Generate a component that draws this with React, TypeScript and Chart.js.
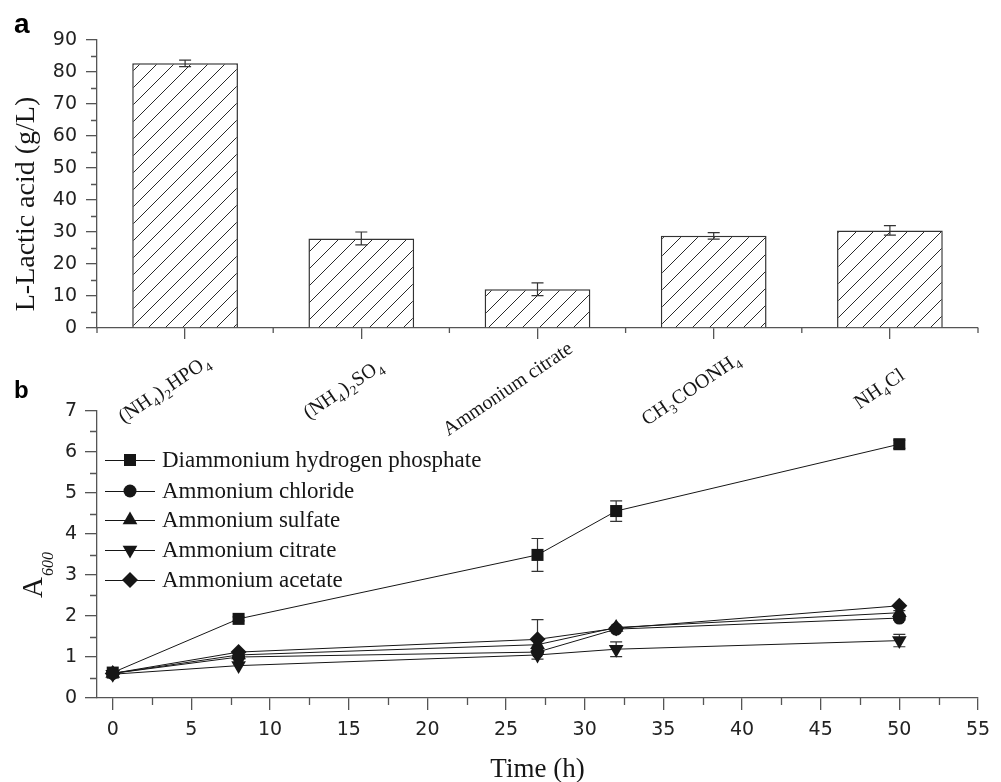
import React, { useEffect, useRef } from 'react';
import { Chart, registerables } from 'chart.js';

Chart.register(...registerables);

// ---------- Panel a data ----------
const categories = ['(NH_4)_2HPO_4', '(NH_4)_2SO_4', 'Ammonium citrate', 'CH_3COONH_4', 'NH_4Cl'];
const lacticAcid = [82.7, 28.0, 12.1, 28.8, 30.5];
const lacticErr = [1.0, 2.0, 2.0, 1.0, 1.5];
const lacticTicks = [0, 10, 20, 30, 40, 50, 60, 70, 80, 90];
const lacticMinor = [5, 15, 25, 35, 45, 55, 65, 75, 85];

// ---------- Panel b data ----------
const timeH = [0, 8, 27, 32, 50];
const seriesNames = [
  'Diammonium hydrogen phosphate',
  'Ammonium chloride',
  'Ammonium sulfate',
  'Ammonium citrate',
  'Ammonium acetate',
];
const dhpA600 = [0.62, 1.93, 3.49, 4.56, 6.19];
const dhpErr = [0.04, 0.05, 0.4, 0.25, 0.1];
const chlorideA600 = [0.6, 1.0, 1.12, 1.68, 1.95];
const chlorideErr = [0, 0, 0, 0, 0.05];
const sulfateA600 = [0.6, 1.05, 1.3, 1.72, 2.08];
const sulfateErr = [0, 0, 0, 0, 0.05];
const citrateA600 = [0.58, 0.79, 1.05, 1.19, 1.4];
const citrateErr = [0, 0, 0, 0.18, 0.15];
const acetateA600 = [0.6, 1.12, 1.43, 1.7, 2.25];
const acetateErr = [0, 0, 0.48, 0, 0];
const timeTicks = [0, 5, 10, 15, 20, 25, 30, 35, 40, 45, 50, 55];
const timeMinor = [2.5, 7.5, 12.5, 17.5, 22.5, 27.5, 32.5, 37.5, 42.5, 47.5, 52.5];
const a600Ticks = [0, 1, 2, 3, 4, 5, 6, 7];
const a600Minor = [0.5, 1.5, 2.5, 3.5, 4.5, 5.5, 6.5];

const AXIS = '#555';
const INK = '#161616';
const TICKFONT = { family: '"DejaVu Sans", sans-serif', size: 19 };
const SERIF = '"Liberation Serif", "Times New Roman", serif';

function parseRich(s: string) {
  const parts: { t: string; sub: boolean }[] = [];
  let buf = '';
  for (let i = 0; i < s.length; i++) {
    if (s[i] === '_' && i + 1 < s.length) {
      if (buf) { parts.push({ t: buf, sub: false }); buf = ''; }
      parts.push({ t: s[i + 1], sub: true });
      i++;
    } else buf += s[i];
  }
  if (buf) parts.push({ t: buf, sub: false });
  return parts;
}

function drawMarker(ctx: CanvasRenderingContext2D, style: string, x: number, y: number, r: number) {
  ctx.beginPath();
  if (style === 'rect') {
    const s = r * Math.SQRT1_2;
    ctx.rect(x - s, y - s, 2 * s, 2 * s);
  } else if (style === 'circle') {
    ctx.arc(x, y, r, 0, Math.PI * 2);
  } else if (style === 'triangle' || style === 'triangleDown') {
    const d = style === 'triangle' ? 1 : -1;
    for (let k = 0; k < 3; k++) {
      const a = -Math.PI / 2 + (k * 2 * Math.PI) / 3;
      const px = x + r * Math.cos(a);
      const py = y + d * r * Math.sin(a);
      if (k === 0) ctx.moveTo(px, py); else ctx.lineTo(px, py);
    }
    ctx.closePath();
  } else if (style === 'diamond') {
    ctx.moveTo(x, y - r); ctx.lineTo(x + r, y); ctx.lineTo(x, y + r); ctx.lineTo(x - r, y); ctx.closePath();
  }
  ctx.fill();
}

function makeHatch(): CanvasPattern | string {
  const c = document.createElement('canvas');
  const n = 17;
  c.width = n; c.height = n;
  const g = c.getContext('2d');
  if (!g) return '#fff';
  g.fillStyle = '#fff';
  g.fillRect(0, 0, n, n);
  g.strokeStyle = '#2a2a2a';
  g.lineWidth = 1;
  g.beginPath();
  g.moveTo(-2, n + 2); g.lineTo(n + 2, -2);
  g.moveTo(-2, 2); g.lineTo(2, -2);
  g.moveTo(n - 2, n + 2); g.lineTo(n + 2, n - 2);
  g.stroke();
  const p = g.createPattern(c, 'repeat');
  return p || '#fff';
}

function errBar(ctx: CanvasRenderingContext2D, x: number, yTop: number, yBot: number, cap: number) {
  ctx.beginPath();
  ctx.moveTo(x, yTop); ctx.lineTo(x, yBot);
  ctx.moveTo(x - cap / 2, yTop); ctx.lineTo(x + cap / 2, yTop);
  ctx.moveTo(x - cap / 2, yBot); ctx.lineTo(x + cap / 2, yBot);
  ctx.stroke();
}

const panelAPlugin = {
  id: 'panelA',
  afterDatasetsDraw(chart: any) {
    const ctx: CanvasRenderingContext2D = chart.ctx;
    const y = chart.scales.y;
    const meta = chart.getDatasetMeta(0);
    ctx.save();
    ctx.strokeStyle = '#333';
    ctx.lineWidth = 1.2;
    meta.data.forEach((bar: any, i: number) => {
      const v = lacticAcid[i];
      const e = lacticErr[i];
      errBar(ctx, bar.x, y.getPixelForValue(v + e), y.getPixelForValue(v - e), 12);
    });
    ctx.restore();
  },
  afterDraw(chart: any) {
    const ctx: CanvasRenderingContext2D = chart.ctx;
    const { left, right, bottom } = chart.chartArea;
    const x = chart.scales.x;
    const y = chart.scales.y;
    ctx.save();
    ctx.strokeStyle = AXIS;
    ctx.lineWidth = 1.3;
    ctx.beginPath();
    lacticMinor.forEach((v) => {
      const py = Math.round(y.getPixelForValue(v)) + 0.5;
      ctx.moveTo(left - 6, py); ctx.lineTo(left, py);
    });
    const w = (right - left) / categories.length;
    for (let k = 0; k <= categories.length; k++) {
      const px = left + k * w;
      ctx.moveTo(px, bottom); ctx.lineTo(px, bottom + 5);
    }
    ctx.stroke();

    // category labels (rotated, with subscripts)
    const angle = (34 * Math.PI) / 180;
    const MAIN = `20px ${SERIF}`;
    const SUB = `13px ${SERIF}`;
    ctx.fillStyle = INK;
    ctx.textAlign = 'left';
    ctx.textBaseline = 'alphabetic';
    categories.forEach((lab, i) => {
      const parts = parseRich(lab);
      let wTot = 0;
      parts.forEach((p) => { ctx.font = p.sub ? SUB : MAIN; wTot += ctx.measureText(p.t).width + (p.sub ? 1.5 : 0); });
      const cx = x.getPixelForValue(i) - 0.2 * wTot;
      const cy = 388;
      ctx.save();
      ctx.translate(cx, cy);
      ctx.rotate(-angle);
      let px = -wTot / 2;
      parts.forEach((p) => {
        ctx.font = p.sub ? SUB : MAIN;
        ctx.fillText(p.t, px + (p.sub ? 0.5 : 0), 7 + (p.sub ? 5 : 0));
        px += ctx.measureText(p.t).width + (p.sub ? 1.5 : 0);
      });
      ctx.restore();
    });

    // y title
    ctx.save();
    ctx.translate(27, 204);
    ctx.rotate(-Math.PI / 2);
    ctx.font = `28px ${SERIF}`;
    ctx.textAlign = 'center';
    ctx.textBaseline = 'middle';
    ctx.fillText('L-Lactic acid (g/L)', 0, 0);
    ctx.restore();

    // panel letter
    ctx.font = 'bold 28px "Liberation Sans", Arial, sans-serif';
    ctx.textAlign = 'left';
    ctx.textBaseline = 'alphabetic';
    ctx.fillStyle = '#000';
    ctx.fillText('a', 14, 33);
    ctx.restore();
  },
};

const lineSeries = [
  { name: seriesNames[0], data: dhpA600, err: dhpErr, style: 'rect', r: 8.5 },
  { name: seriesNames[1], data: chlorideA600, err: chlorideErr, style: 'circle', r: 6.5 },
  { name: seriesNames[2], data: sulfateA600, err: sulfateErr, style: 'triangle', r: 8.5 },
  { name: seriesNames[3], data: citrateA600, err: citrateErr, style: 'triangleDown', r: 8.5 },
  { name: seriesNames[4], data: acetateA600, err: acetateErr, style: 'diamond', r: 8 },
];

const panelBPlugin = {
  id: 'panelB',
  beforeDatasetsDraw(chart: any) {
    const ctx: CanvasRenderingContext2D = chart.ctx;
    const x = chart.scales.x;
    const y = chart.scales.y;
    ctx.save();
    ctx.strokeStyle = '#333';
    ctx.lineWidth = 1.2;
    lineSeries.forEach((s) => {
      s.data.forEach((v, i) => {
        const e = s.err[i];
        if (!e) return;
        errBar(ctx, x.getPixelForValue(timeH[i]), y.getPixelForValue(v + e), y.getPixelForValue(v - e), 12);
      });
    });
    ctx.restore();
  },
  afterDraw(chart: any) {
    const ctx: CanvasRenderingContext2D = chart.ctx;
    const { left, right, bottom } = chart.chartArea;
    const x = chart.scales.x;
    const y = chart.scales.y;
    ctx.save();
    ctx.strokeStyle = AXIS;
    ctx.lineWidth = 1.3;
    ctx.beginPath();
    a600Minor.forEach((v) => {
      const py = Math.round(y.getPixelForValue(v)) + 0.5;
      ctx.moveTo(left - 7, py); ctx.lineTo(left, py);
    });
    timeMinor.forEach((v) => {
      const px = Math.round(x.getPixelForValue(v)) + 0.5;
      ctx.moveTo(px, bottom); ctx.lineTo(px, bottom + 7);
    });
    ctx.stroke();

    // legend
    const rowY = [80, 111, 140, 170, 200];
    ctx.font = `23px ${SERIF}`;
    ctx.textAlign = 'left';
    ctx.textBaseline = 'middle';
    lineSeries.forEach((s, i) => {
      const yy = rowY[i];
      ctx.strokeStyle = INK;
      ctx.lineWidth = 1;
      ctx.beginPath();
      ctx.moveTo(105, yy + 0.5); ctx.lineTo(155, yy + 0.5);
      ctx.stroke();
      ctx.fillStyle = INK;
      drawMarker(ctx, s.style, 130, yy, s.r);
      ctx.fillStyle = INK;
      ctx.fillText(s.name, 162, yy + 1);
    });

    // y title A600
    ctx.save();
    ctx.translate(42, 575 - 380);
    ctx.rotate(-Math.PI / 2);
    ctx.textBaseline = 'alphabetic';
    ctx.font = `29px ${SERIF}`;
    const wA = ctx.measureText('A').width;
    ctx.font = `italic 16px ${SERIF}`;
    const wS = ctx.measureText('600').width;
    const start = -(wA + 1 + wS) / 2;
    ctx.font = `29px ${SERIF}`;
    ctx.fillText('A', start, 0);
    ctx.font = `italic 16px ${SERIF}`;
    ctx.fillText('600', start + wA + 1, 11);
    ctx.restore();

    // x title
    ctx.font = `27px ${SERIF}`;
    ctx.textAlign = 'center';
    ctx.textBaseline = 'middle';
    ctx.fillStyle = INK;
    ctx.fillText('Time (h)', (left + right) / 2, 770 - 380);

    // panel letter
    ctx.font = 'bold 24px "Liberation Sans", Arial, sans-serif';
    ctx.textAlign = 'left';
    ctx.textBaseline = 'alphabetic';
    ctx.fillStyle = '#000';
    ctx.fillText('b', 14, 398 - 380);
    ctx.restore();
  },
};

function PanelA() {
  const ref = useRef<HTMLCanvasElement | null>(null);
  useEffect(() => {
    if (!ref.current) return;
    const chart = new Chart(ref.current, {
      type: 'bar',
      data: {
        labels: categories,
        datasets: [
          {
            data: lacticAcid,
            backgroundColor: makeHatch() as any,
            borderColor: '#333',
            borderWidth: 1.5,
            barPercentage: 0.6,
            categoryPercentage: 1,
          },
        ],
      },
      options: {
        responsive: false,
        animation: false,
        devicePixelRatio: 1,
        layout: { padding: { left: 0, right: 23, top: 40, bottom: 0 } },
        plugins: { legend: { display: false }, tooltip: { enabled: false } },
        scales: {
          x: {
            type: 'category',
            offset: true,
            grid: { display: true, drawOnChartArea: false, offset: false, tickLength: 11, color: AXIS, lineWidth: 1.3 },
            border: { display: true, color: AXIS, width: 1.3 },
            ticks: { display: false },
            afterFit: (s: any) => { s.height = 122; },
          },
          y: {
            min: 0,
            max: 90,
            afterBuildTicks: (s: any) => { s.ticks = lacticTicks.map((v) => ({ value: v })); },
            grid: { display: true, drawOnChartArea: false, tickLength: 11, color: AXIS, lineWidth: 1.3 },
            border: { display: true, color: AXIS, width: 1.3 },
            ticks: { font: TICKFONT, color: '#222', padding: 9 },
            afterFit: (s: any) => { s.width = 97; },
          },
        },
      } as any,
      plugins: [panelAPlugin],
    });
    return () => chart.destroy();
  }, []);
  return (
    <canvas
      ref={ref}
      width={1001}
      height={450}
      style={{ position: 'absolute', left: 0, top: 0, width: 1001, height: 450, zIndex: 2 }}
    />
  );
}

function PanelB() {
  const ref = useRef<HTMLCanvasElement | null>(null);
  useEffect(() => {
    if (!ref.current) return;
    const chart = new Chart(ref.current, {
      type: 'line',
      data: {
        datasets: lineSeries.map((s) => ({
          label: s.name,
          data: s.data.map((v, i) => ({ x: timeH[i], y: v })),
          borderColor: INK,
          borderWidth: 1,
          backgroundColor: INK,
          pointBackgroundColor: INK,
          pointBorderColor: INK,
          pointBorderWidth: 0,
          pointStyle: s.style === 'diamond' ? 'rectRot' : s.style === 'triangleDown' ? 'triangle' : s.style,
          pointRotation: s.style === 'triangleDown' ? 180 : 0,
          pointRadius: s.r,
          tension: 0,
          fill: false,
        })),
      },
      options: {
        responsive: false,
        animation: false,
        devicePixelRatio: 1,
        layout: { padding: { left: 0, right: 23, top: 31, bottom: 0 } },
        plugins: { legend: { display: false }, tooltip: { enabled: false } },
        scales: {
          x: {
            type: 'linear',
            min: -1,
            max: 55,
            afterBuildTicks: (s: any) => { s.ticks = timeTicks.map((v) => ({ value: v })); },
            grid: { display: true, drawOnChartArea: false, tickLength: 12, color: AXIS, lineWidth: 1.3 },
            border: { display: true, color: AXIS, width: 1.3 },
            ticks: { font: TICKFONT, color: '#222', padding: 9, maxRotation: 0 },
            afterFit: (s: any) => { s.height = 84; },
          },
          y: {
            min: 0,
            max: 7,
            afterBuildTicks: (s: any) => { s.ticks = a600Ticks.map((v) => ({ value: v })); },
            grid: { display: true, drawOnChartArea: false, tickLength: 12, color: AXIS, lineWidth: 1.3 },
            border: { display: true, color: AXIS, width: 1.3 },
            ticks: { font: TICKFONT, color: '#222', padding: 8 },
            afterFit: (s: any) => { s.width = 97; },
          },
        },
      } as any,
      plugins: [panelBPlugin],
    });
    return () => chart.destroy();
  }, []);
  return (
    <canvas
      ref={ref}
      width={1001}
      height={402}
      style={{ position: 'absolute', left: 0, top: 380, width: 1001, height: 402, zIndex: 1 }}
    />
  );
}

export default function App() {
  return (
    <div style={{ position: 'absolute', left: 0, top: 0, width: 1001, height: 782, background: '#fff', overflow: 'hidden' }}>
      <PanelB />
      <PanelA />
    </div>
  );
}
